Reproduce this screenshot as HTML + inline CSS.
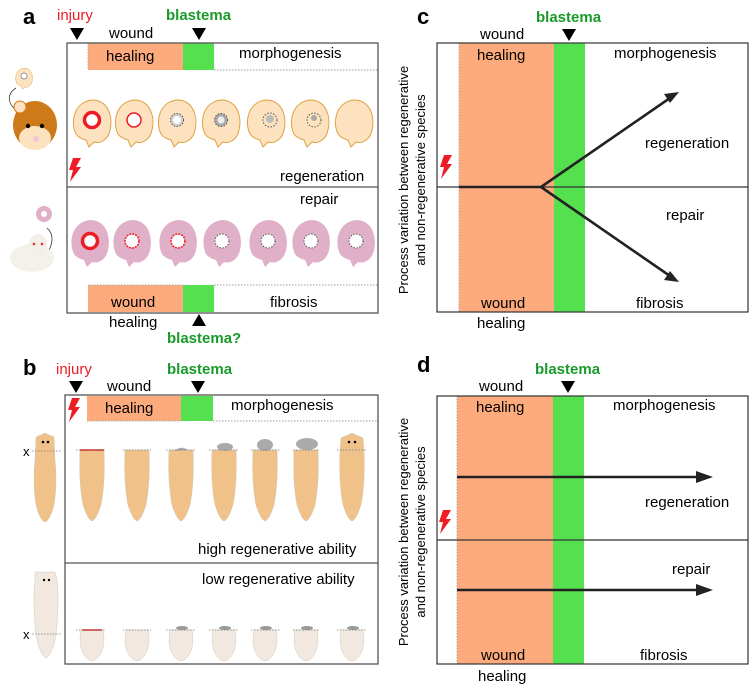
<!DOCTYPE html>
<html><head><meta charset="utf-8"><style>
html,body{margin:0;padding:0;background:#fff;}
svg{display:block;font-family:"Liberation Sans",Arial,sans-serif;}
</style></head><body>
<svg width="750" height="686" viewBox="0 0 750 686" xmlns="http://www.w3.org/2000/svg">
<defs>
<path id="ear" d="M-16,12 C-22,0 -18,-20 0,-22 C17,-22 21,-4 18,8 C16,18 8,22 2,20 L-3,25 L-6,18 C-10,17 -14,15 -16,12 Z"/>
<path id="bolt" d="M4,0 L12,0 L7,9 L12,9 L1,24 L4,12 L0,12 Z" fill="#ee1c24"/>
<path id="tri" d="M-7,0 L7,0 L0,12 Z" fill="#000"/>
<path id="worm" d="M-12,0 L12,0 C13,20 12,40 9,55 C6,65 2,71 0,71 C-2,71 -6,65 -9,55 C-12,40 -13,20 -12,0 Z"/>
<path id="stub" d="M-11,0 L11,0 C13,10 12,18 8,25 C5,29 2,31 0,31 C-2,31 -5,29 -8,25 C-12,18 -13,10 -11,0 Z"/>
</defs>

<!-- ================= PANEL A ================= -->
<text x="23" y="24" font-size="22" font-weight="bold">a</text>
<text x="57" y="20" font-size="15" fill="#ee1c24">injury</text>
<use href="#tri" x="77" y="28"/>
<text x="109" y="38" font-size="15">wound</text>
<text x="166" y="20" font-size="15" fill="#1a9a2a" font-weight="bold">blastema</text>
<use href="#tri" x="199" y="28"/>
<rect x="88" y="43" width="95" height="27" fill="#fdab7d"/>
<rect x="183" y="43" width="31" height="27" fill="#55e04f"/>
<line x1="214" y1="70" x2="378" y2="70" stroke="#999" stroke-dasharray="1.5,1.5"/>
<line x1="88" y1="43" x2="88" y2="70" stroke="#aaa" stroke-dasharray="1.5,1.5"/>
<text x="106" y="61" font-size="15">healing</text>
<text x="239" y="58" font-size="15">morphogenesis</text>
<rect x="67" y="43" width="311" height="270" fill="none" stroke="#555" stroke-width="1.3"/>
<line x1="67" y1="187" x2="378" y2="187" stroke="#555" stroke-width="1.3"/>
<use href="#bolt" x="69" y="158"/>
<text x="280" y="181" font-size="15">regeneration</text>
<text x="300" y="204" font-size="15">repair</text>
<g fill="#fde2c0" stroke="#e0a040" stroke-width="1">
<use href="#ear" x="92" y="122"/><use href="#ear" x="134" y="122"/><use href="#ear" x="177" y="122"/>
<use href="#ear" x="221" y="122"/><use href="#ear" x="266" y="122"/><use href="#ear" x="310" y="122"/><use href="#ear" x="354" y="122"/>
</g>
<circle cx="92" cy="120" r="7.5" fill="#fff" stroke="#ee1c24" stroke-width="3.5"/>
<circle cx="134" cy="120" r="7" fill="#fff" stroke="#ee1c24" stroke-width="1.5"/>
<circle cx="177" cy="120" r="6.5" fill="#ccc" stroke="#555" stroke-dasharray="1.5,1.5"/><circle cx="177" cy="120" r="4" fill="#fff"/>
<circle cx="221" cy="120" r="6.5" fill="#aaa" stroke="#555" stroke-dasharray="1.5,1.5"/><circle cx="221" cy="120" r="3.5" fill="#eee"/>
<circle cx="270" cy="120" r="7" fill="none" stroke="#555" stroke-dasharray="1.5,1.5"/><circle cx="270" cy="119" r="4" fill="#bbb"/>
<circle cx="314" cy="120" r="7" fill="none" stroke="#555" stroke-dasharray="1.5,1.5"/><circle cx="314" cy="118" r="3" fill="#aaa"/>
<g fill="#e0b0c8">
<use href="#ear" x="90" y="242"/><use href="#ear" x="132" y="242"/><use href="#ear" x="178" y="242"/>
<use href="#ear" x="222" y="242"/><use href="#ear" x="268" y="242"/><use href="#ear" x="311" y="242"/><use href="#ear" x="356" y="242"/>
</g>
<circle cx="90" cy="241" r="7.5" fill="#fff" stroke="#ee1c24" stroke-width="3.5"/>
<circle cx="132" cy="241" r="7" fill="#fff" stroke="#ee1c24" stroke-width="1.5" stroke-dasharray="2,1"/>
<circle cx="178" cy="241" r="7" fill="#fff" stroke="#ee1c24" stroke-width="1.5" stroke-dasharray="2,1"/>
<circle cx="222" cy="241" r="7" fill="#fff" stroke="#555" stroke-dasharray="1.5,1.5"/>
<circle cx="268" cy="241" r="7" fill="#fff" stroke="#555" stroke-dasharray="1.5,1.5"/>
<circle cx="311" cy="241" r="7" fill="#fff" stroke="#555" stroke-dasharray="1.5,1.5"/>
<circle cx="356" cy="241" r="7" fill="#fff" stroke="#555" stroke-dasharray="1.5,1.5"/>
<rect x="88" y="285" width="95" height="27" fill="#fdab7d"/>
<rect x="183" y="285" width="31" height="27" fill="#55e04f"/>
<line x1="214" y1="285" x2="378" y2="285" stroke="#999" stroke-dasharray="1.5,1.5"/>
<line x1="88" y1="285" x2="183" y2="285" stroke="#aaa" stroke-dasharray="1.5,1.5"/>
<text x="111" y="307" font-size="15">wound</text>
<text x="270" y="307" font-size="15">fibrosis</text>
<text x="109" y="327" font-size="15">healing</text>
<path d="M192,326 L206,326 L199,314 Z" fill="#000"/>
<text x="167" y="343" font-size="15" fill="#1a9a2a" font-weight="bold">blastema?</text>
<use href="#ear" x="24" y="78" fill="#fde2c0" stroke="#e0a040" transform="translate(24 78) scale(0.45) translate(-24 -78)"/>
<circle cx="24" cy="76" r="3" fill="#fff" stroke="#999"/>
<path d="M16,88 C5,95 10,105 14,108" fill="none" stroke="#333" stroke-width="0.8"/>
<ellipse cx="35" cy="125" rx="22" ry="24" fill="#cc7a1a"/>
<ellipse cx="35" cy="138" rx="16" ry="12" fill="#fde2c0"/>
<circle cx="20" cy="107" r="6" fill="#fde2c0" stroke="#cc7a1a"/>
<circle cx="28" cy="126" r="2.2" fill="#000"/><circle cx="42" cy="126" r="2.2" fill="#000"/>
<circle cx="36" cy="139" r="3" fill="#f4c4d0"/>
<circle cx="44" cy="214" r="8" fill="#e0b0c8"/><circle cx="44" cy="214" r="3" fill="#fff"/>
<path d="M47,228 C55,235 52,245 48,252" fill="none" stroke="#333" stroke-width="0.8"/>
<ellipse cx="32" cy="258" rx="22" ry="14" fill="#f4f0ea"/>
<ellipse cx="38" cy="245" rx="9" ry="11" fill="#f2eee8"/>
<circle cx="34" cy="244" r="1.3" fill="#d33"/><circle cx="42" cy="244" r="1.3" fill="#d33"/>

<!-- ================= PANEL B ================= -->
<text x="23" y="375" font-size="22" font-weight="bold">b</text>
<text x="56" y="374" font-size="15" fill="#ee1c24">injury</text>
<use href="#tri" x="76" y="381"/>
<text x="107" y="391" font-size="15">wound</text>
<text x="167" y="374" font-size="15" fill="#1a9a2a" font-weight="bold">blastema</text>
<use href="#tri" x="198" y="381"/>
<rect x="87" y="396" width="94" height="25" fill="#fdab7d"/>
<rect x="181" y="396" width="32" height="25" fill="#55e04f"/>
<line x1="213" y1="421" x2="378" y2="421" stroke="#999" stroke-dasharray="1.5,1.5"/>
<line x1="87" y1="421" x2="181" y2="421" stroke="#aaa" stroke-dasharray="1.5,1.5"/>
<text x="105" y="413" font-size="15">healing</text>
<text x="231" y="410" font-size="15">morphogenesis</text>
<use href="#bolt" x="68" y="398"/>
<rect x="65" y="395" width="313" height="269" fill="none" stroke="#555" stroke-width="1.3"/>
<line x1="65" y1="563" x2="378" y2="563" stroke="#555" stroke-width="1.3"/>
<text x="198" y="554" font-size="15">high regenerative ability</text>
<text x="202" y="584" font-size="15">low regenerative ability</text>
<g fill="#f0c28a" stroke="#ccb" stroke-width="0.5">
<path d="M36,437 L45,433 L54,437 L55,460 C57,480 56,500 52,512 C49,520 46,522 45,522 C44,522 41,520 38,512 C34,500 33,480 35,460 Z"/>
<use href="#worm" x="92" y="450"/><use href="#worm" x="137" y="450"/><use href="#worm" x="181" y="450"/>
<use href="#worm" x="224" y="450"/><use href="#worm" x="265" y="450"/><use href="#worm" x="306" y="450"/><use href="#worm" x="352" y="450"/>
<path d="M340,450 L341,438 L352,433 L363,438 L364,450 Z"/>
</g>
<path d="M174,451 Q181,445 188,450 Z" fill="#aaa"/>
<ellipse cx="225" cy="447" rx="8" ry="4" fill="#aaa"/>
<ellipse cx="265" cy="445" rx="8" ry="6" fill="#aaa"/>
<ellipse cx="307" cy="444" rx="11" ry="6" fill="#aaa"/>
<line x1="80" y1="450" x2="104" y2="450" stroke="#d22" stroke-width="1.5"/>
<g fill="#000"><circle cx="43" cy="442" r="1.3"/><circle cx="48" cy="442" r="1.3"/><circle cx="349" cy="442" r="1.3"/><circle cx="355" cy="442" r="1.3"/></g>
<g stroke="#777" stroke-dasharray="1.5,1.5" stroke-width="0.8">
<line x1="32" y1="451" x2="62" y2="451"/>
<line x1="76" y1="450" x2="106" y2="450"/><line x1="123" y1="450" x2="151" y2="450"/><line x1="166" y1="450" x2="195" y2="450"/>
<line x1="209" y1="450" x2="238" y2="450"/><line x1="251" y1="450" x2="280" y2="450"/><line x1="293" y1="450" x2="320" y2="450"/><line x1="337" y1="450" x2="366" y2="450"/>
</g>
<text x="23" y="456" font-size="13">x</text>
<g fill="#f2e8e0" stroke="#ccb" stroke-width="0.5">
<path d="M35,572 L55,572 L57,580 C59,600 58,620 55,640 C52,652 48,658 46,658 C44,658 40,652 37,640 C34,620 33,600 35,580 Z"/>
<use href="#stub" x="92" y="630"/><use href="#stub" x="137" y="630"/><use href="#stub" x="181" y="630"/>
<use href="#stub" x="224" y="630"/><use href="#stub" x="265" y="630"/><use href="#stub" x="306" y="630"/><use href="#stub" x="352" y="630"/>
</g>
<g fill="#000"><circle cx="44" cy="580" r="1.2"/><circle cx="49" cy="580" r="1.2"/></g>
<line x1="82" y1="630" x2="102" y2="630" stroke="#d22" stroke-width="1.5"/>
<g fill="#999"><ellipse cx="182" cy="628" rx="6" ry="2"/><ellipse cx="225" cy="628" rx="6" ry="2"/><ellipse cx="266" cy="628" rx="6" ry="2"/><ellipse cx="307" cy="628" rx="6" ry="2"/><ellipse cx="353" cy="628" rx="6" ry="2"/></g>
<g stroke="#777" stroke-dasharray="1.5,1.5" stroke-width="0.8">
<line x1="32" y1="634" x2="62" y2="634"/>
<line x1="76" y1="630" x2="106" y2="630"/><line x1="123" y1="630" x2="151" y2="630"/><line x1="166" y1="630" x2="195" y2="630"/>
<line x1="209" y1="630" x2="238" y2="630"/><line x1="251" y1="630" x2="280" y2="630"/><line x1="293" y1="630" x2="320" y2="630"/><line x1="337" y1="630" x2="366" y2="630"/>
</g>
<text x="23" y="639" font-size="13">x</text>

<!-- ================= PANEL C ================= -->
<text x="417" y="24" font-size="22" font-weight="bold">c</text>
<text x="536" y="22" font-size="15" fill="#1a9a2a" font-weight="bold">blastema</text>
<use href="#tri" x="569" y="29"/>
<rect x="459" y="43" width="95" height="269" fill="#fdab7d"/>
<rect x="554" y="43" width="31" height="269" fill="#55e04f"/>
<line x1="459" y1="43" x2="459" y2="312" stroke="#aaa" stroke-dasharray="1.5,1.5"/>
<rect x="437" y="43" width="311" height="269" fill="none" stroke="#333" stroke-width="1.2"/>
<line x1="437" y1="187" x2="748" y2="187" stroke="#333" stroke-width="1.2"/>
<text x="480" y="39" font-size="15">wound</text>
<text x="477" y="60" font-size="15">healing</text>
<text x="614" y="58" font-size="15">morphogenesis</text>
<text x="645" y="148" font-size="15">regeneration</text>
<text x="666" y="220" font-size="15">repair</text>
<text x="636" y="308" font-size="15">fibrosis</text>
<text x="481" y="308" font-size="15">wound</text>
<text x="477" y="328" font-size="15">healing</text>
<use href="#bolt" x="440" y="155"/>
<g stroke="#222" stroke-width="2.6" fill="none">
<line x1="459" y1="187" x2="541" y2="187"/>
<line x1="541" y1="187" x2="670" y2="98"/>
<line x1="541" y1="187" x2="670" y2="276"/>
</g>
<path d="M679,92 L664,94 L670,103 Z" fill="#222"/>
<path d="M679,282 L664,280 L670,271 Z" fill="#222"/>
<text transform="translate(408 180) rotate(-90)" font-size="13" text-anchor="middle">Process variation between regenerative</text>
<text transform="translate(425 180) rotate(-90)" font-size="13" text-anchor="middle">and non-regenerative species</text>

<!-- ================= PANEL D ================= -->
<text x="417" y="372" font-size="22" font-weight="bold">d</text>
<text x="535" y="374" font-size="15" fill="#1a9a2a" font-weight="bold">blastema</text>
<use href="#tri" x="568" y="381"/>
<rect x="457" y="396" width="96" height="268" fill="#fdab7d"/>
<rect x="553" y="396" width="31" height="268" fill="#55e04f"/>
<line x1="457" y1="396" x2="457" y2="664" stroke="#aaa" stroke-dasharray="1.5,1.5"/>
<rect x="437" y="396" width="311" height="268" fill="none" stroke="#333" stroke-width="1.2"/>
<line x1="437" y1="540" x2="748" y2="540" stroke="#333" stroke-width="1.2"/>
<text x="479" y="391" font-size="15">wound</text>
<text x="476" y="412" font-size="15">healing</text>
<text x="613" y="410" font-size="15">morphogenesis</text>
<text x="645" y="507" font-size="15">regeneration</text>
<text x="672" y="574" font-size="15">repair</text>
<text x="640" y="660" font-size="15">fibrosis</text>
<text x="481" y="660" font-size="15">wound</text>
<text x="478" y="681" font-size="15">healing</text>
<use href="#bolt" x="439" y="510"/>
<g stroke="#222" stroke-width="2.6">
<line x1="457" y1="477" x2="698" y2="477"/>
<line x1="457" y1="590" x2="698" y2="590"/>
</g>
<path d="M713,477 L696,471 L696,483 Z" fill="#222"/>
<path d="M713,590 L696,584 L696,596 Z" fill="#222"/>
<text transform="translate(408 532) rotate(-90)" font-size="13" text-anchor="middle">Process variation between regenerative</text>
<text transform="translate(425 532) rotate(-90)" font-size="13" text-anchor="middle">and non-regenerative species</text>
</svg>
</body></html>
